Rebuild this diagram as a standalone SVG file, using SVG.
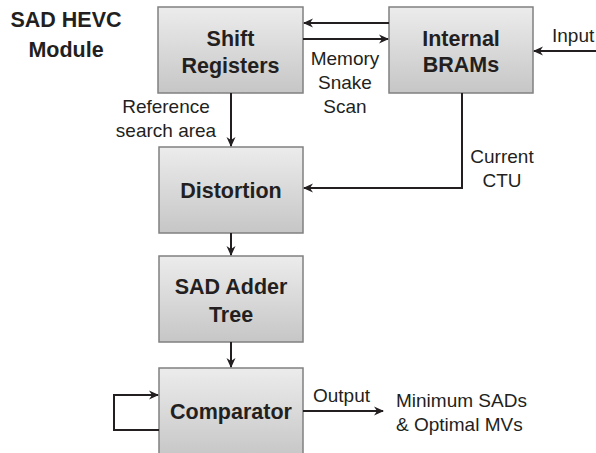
<svg xmlns="http://www.w3.org/2000/svg" width="596" height="453" viewBox="0 0 596 453">
<defs>
<linearGradient id="g" x1="0" y1="0" x2="0" y2="1">
<stop offset="0" stop-color="#ececec"/>
<stop offset="1" stop-color="#c6c6c6"/>
</linearGradient>
<marker id="ah" viewBox="0 0 10 10" refX="9" refY="5" markerWidth="10" markerHeight="10" markerUnits="userSpaceOnUse" orient="auto">
<path d="M0,0.5 L10,5 L0,9.5 L3,5 Z" fill="#231f20"/>
</marker>
</defs>
<style>
.box{fill:url(#g);stroke:#808080;stroke-width:1.5}
.bt{font-family:"Liberation Sans",Arial,sans-serif;font-weight:bold;font-size:21.5px;fill:#231f20;text-anchor:middle}
.lb{font-family:"Liberation Sans",Arial,sans-serif;font-size:19px;fill:#231f20}
.c{fill:none;stroke:#231f20;stroke-width:2}
.a{marker-end:url(#ah)}
</style>
<rect width="596" height="453" fill="#fff"/>
<g id="title">
<text class="bt" x="66" y="27" font-size="22">SAD HEVC</text>
<text class="bt" x="66" y="57" font-size="22">Module</text>
</g>
<g id="shift-registers">
<rect class="box" x="158" y="7" width="145" height="86"/>
<text class="bt" x="230.5" y="46">Shift</text>
<text class="bt" x="230.5" y="73">Registers</text>
</g>
<g id="internal-brams">
<rect class="box" x="389" y="7" width="144" height="86"/>
<text class="bt" x="461" y="46">Internal</text>
<text class="bt" x="461" y="72">BRAMs</text>
</g>
<g id="distortion">
<rect class="box" x="159" y="147" width="144" height="86"/>
<text class="bt" x="231" y="198">Distortion</text>
</g>
<g id="sad-adder-tree">
<rect class="box" x="159" y="256" width="144" height="86"/>
<text class="bt" x="231" y="294">SAD Adder</text>
<text class="bt" x="231" y="322">Tree</text>
</g>
<g id="comparator">
<rect class="box" x="159" y="368" width="144" height="90"/>
<text class="bt" x="231" y="419">Comparator</text>
</g>
<g id="connectors">
<line class="c a" x1="389" y1="23" x2="304" y2="23"/>
<line class="c a" x1="303" y1="39" x2="388" y2="39"/>
<line class="c a" x1="596" y1="51" x2="534" y2="51"/>
<line class="c a" x1="231" y1="93" x2="231" y2="146"/>
<polyline class="c a" points="462,93 462,188 304,188"/>
<line class="c a" x1="231" y1="233" x2="231" y2="255"/>
<line class="c a" x1="231" y1="342" x2="231" y2="367"/>
<polyline class="c a" points="159,430 114,430 114,395 158,395"/>
<line class="c a" x1="303" y1="411" x2="383" y2="411"/>
</g>
<g id="labels">
<text class="lb" x="552" y="42">Input</text>
<text class="lb" x="345" y="65" text-anchor="middle">Memory</text>
<text class="lb" x="345" y="89" text-anchor="middle">Snake</text>
<text class="lb" x="345" y="113" text-anchor="middle">Scan</text>
<text class="lb" x="166" y="113" text-anchor="middle">Reference</text>
<text class="lb" x="166" y="137" text-anchor="middle">search area</text>
<text class="lb" x="502" y="163" text-anchor="middle">Current</text>
<text class="lb" x="502" y="187" text-anchor="middle">CTU</text>
<text class="lb" x="313" y="402">Output</text>
<text class="lb" x="396" y="407">Minimum SADs</text>
<text class="lb" x="396" y="431">&amp; Optimal MVs</text>
</g>
</svg>
